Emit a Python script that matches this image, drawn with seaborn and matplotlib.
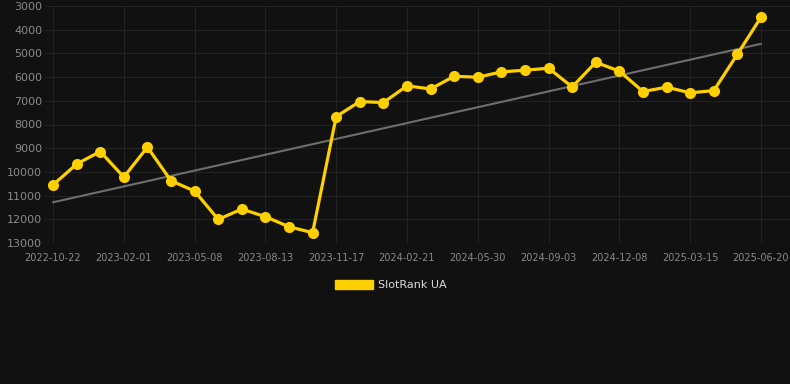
import numpy as np
import pandas as pd
import matplotlib
matplotlib.use('Agg')
import matplotlib.pyplot as plt
import seaborn as sns
from matplotlib.patches import Patch

# rank values (31 evenly spaced samples)
ranks = [10550, 9670, 9140, 10220, 8955, 10375, 10810, 12005, 11570, 11890,
         12315, 12565, 7665, 7030, 7075, 6370, 6500, 5965, 6005, 5780,
         5710, 5625, 6415, 5375, 5750, 6610, 6425, 6665, 6570, 5035, 3475]
tick_labels = ['2022-10-22', '2023-02-01', '2023-05-08', '2023-08-13', '2023-11-17',
               '2024-02-21', '2024-05-30', '2024-09-03', '2024-12-08', '2025-03-15',
               '2025-06-20']
y_ticks = [3000, 4000, 5000, 6000, 7000, 8000, 9000, 10000, 11000, 12000, 13000]
series_name = 'SlotRank UA'

bg = '#111111'
gold = '#ffd000'

df = pd.DataFrame({'idx': np.arange(len(ranks)), 'rank': ranks})
slope, icpt = np.polyfit(df['idx'], df['rank'], 1)
df['trend'] = slope * df['idx'] + icpt

sns.set_style('dark')
fig = plt.figure(figsize=(7.9, 3.84), dpi=100, facecolor=bg)
ax = fig.add_axes([45 / 790, 1 - 243 / 384, 1 - 45 / 790, 237 / 384])
ax.set_facecolor(bg)

sns.lineplot(data=df, x='idx', y='trend', ax=ax, color='#6e6e6e', linewidth=1.5, legend=False)
sns.lineplot(data=df, x='idx', y='rank', ax=ax, color=gold, linewidth=2.3,
             marker='o', markersize=8, markeredgewidth=0, legend=False)

ax.set_xlim(-0.34, 31.23)
ax.set_ylim(13000, 3000)
ax.set_yticks(y_ticks)
ax.set_yticklabels([str(v) for v in y_ticks])
ax.set_xticks(np.arange(0, len(ranks), 3))
ax.set_xticklabels(tick_labels)
ax.grid(True, color='#232323', linewidth=0.8)
ax.tick_params(axis='y', colors='#8a8a8a', labelsize=8, length=0, pad=2)
ax.tick_params(axis='x', colors='#2a2a2a', labelcolor='#8a8a8a', labelsize=7, length=5, width=0.8, pad=2)
for s in ax.spines.values():
    s.set_visible(False)
ax.set_xlabel('')
ax.set_ylabel('')

fig.legend(handles=[Patch(facecolor=gold, edgecolor=gold, label=series_name)],
           loc='center', bbox_to_anchor=(391 / 790, 1 - 285 / 384), frameon=False,
           handlelength=3.4, handleheight=0.9, handletextpad=0.5,
           fontsize=8, labelcolor='#dddddd')

fig.savefig('out.png', dpi=100, facecolor=bg)
